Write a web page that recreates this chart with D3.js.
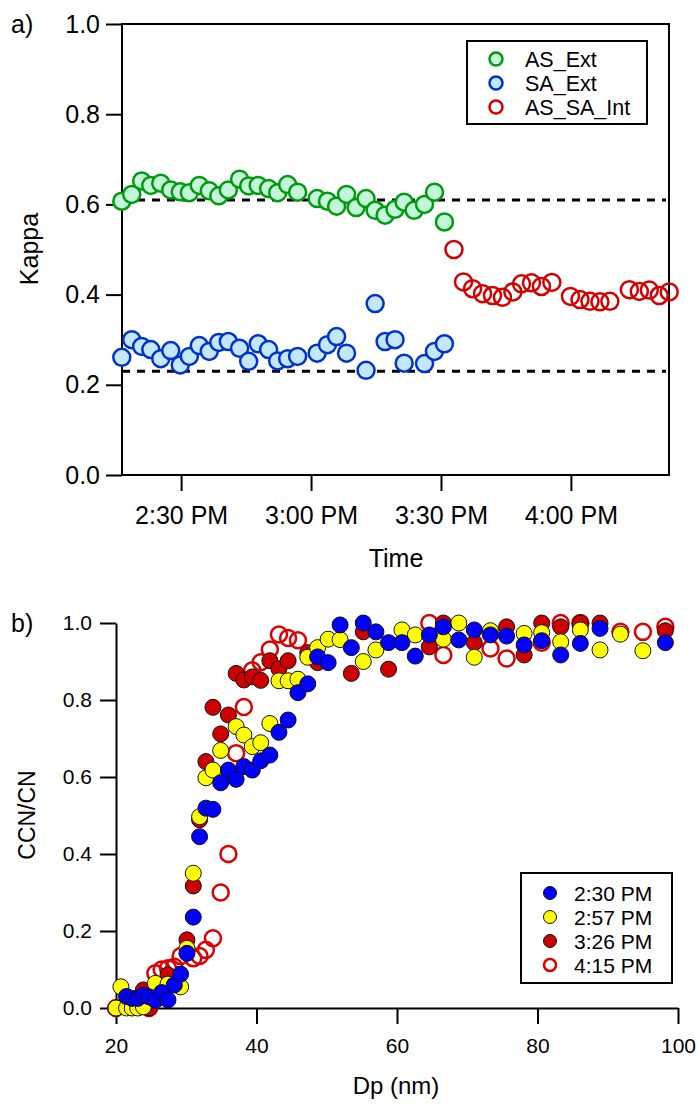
<!DOCTYPE html>
<html>
<head>
<meta charset="UTF-8">
<style>
  body { margin: 0; background: #fff; }
  svg { display: block; font-family: "Liberation Sans", Arial, sans-serif; }
  .axis path, .axis line { stroke: #000; stroke-width: 2px; }
  .axis text { fill: #000; }
</style>
</head>
<body>
<svg></svg>
<script src="https://d3js.org/d3.v7.min.js"></script>
<script>
// ---- panel a) data : minutes after 2:00 PM, kappa ----
const asExtMin = [16.3, 18.6, 20.9, 23.0, 25.3, 27.6, 29.8, 31.9, 34.2, 36.5, 38.7, 40.9, 43.5, 45.6, 47.8, 50.2, 52.3, 54.6, 56.9,
                  61.4, 63.8, 65.9, 68.2, 70.4, 72.7, 74.8, 77.1, 79.4, 81.5, 83.8, 86.2, 88.5, 90.8];
const asExtKappa = [0.607, 0.622, 0.652, 0.642, 0.647, 0.632, 0.628, 0.626, 0.642, 0.630, 0.619, 0.632, 0.656, 0.641, 0.642, 0.635, 0.626, 0.644, 0.627,
                    0.613, 0.607, 0.596, 0.622, 0.593, 0.613, 0.587, 0.576, 0.589, 0.605, 0.587, 0.600, 0.627, 0.561];

const saExtMin = [16.3, 18.6, 20.9, 23.0, 25.3, 27.6, 29.8, 31.9, 34.2, 36.5, 38.7, 40.9, 43.5, 45.6, 47.8, 50.2, 52.3, 54.6, 56.9,
                  61.4, 63.8, 65.9, 68.2, 72.7, 74.8, 77.1, 79.4, 81.5, 86.2, 88.5, 90.8];
const saExtKappa = [0.261, 0.300, 0.285, 0.278, 0.258, 0.276, 0.244, 0.263, 0.287, 0.274, 0.294, 0.296, 0.281, 0.252, 0.291, 0.278, 0.253, 0.258, 0.263,
                    0.270, 0.289, 0.307, 0.270, 0.232, 0.380, 0.296, 0.300, 0.248, 0.247, 0.274, 0.291];

const intMin = [93.0, 95.2, 97.3, 99.6, 101.9, 104.2, 106.6, 108.6, 110.9, 113.2, 115.6, 119.9, 122.1, 124.4, 126.7, 129.0, 133.5, 135.8, 138.1, 140.4, 142.7];
const intKappa = [0.500, 0.428, 0.413, 0.402, 0.398, 0.394, 0.406, 0.424, 0.426, 0.418, 0.427, 0.396, 0.389, 0.385, 0.384, 0.385, 0.411, 0.407, 0.410, 0.398, 0.406];

const refKappa = [0.61, 0.23];
const kappaTicks = [0, 0.2, 0.4, 0.6, 0.8, 1.0];
const timeTicks = [30, 60, 90, 120];
const seriesA = ["AS_Ext", "SA_Ext", "AS_SA_Int"];

// ---- panel b) data : Dp (nm), CCN/CN ----
const dp = [20.0, 20.7, 21.5, 22.3, 23.1, 23.9, 24.7, 25.6, 26.5, 27.4,
            28.3, 29.2, 30.1, 31.0, 31.9, 32.8, 33.8, 34.9, 36.0, 37.1,
            38.2, 39.4, 40.6, 41.9, 43.2, 44.5, 45.9, 47.3, 48.7, 50.2,
            51.9, 53.5, 55.2, 57.0, 58.8, 60.7, 62.6, 64.6, 66.6, 68.8,
            71.0, 73.3, 75.6, 78.1, 80.6, 83.3, 86.1, 88.9, 91.8, 95.0,
            98.2];
const pm230 = [null, null, 0.030, 0.025, 0.025, 0.034, 0.029, 0.020, 0.040, 0.021,
               0.060, 0.088, 0.142, 0.236, 0.445, 0.519, 0.516, 0.585, 0.618, 0.594,
               0.627, 0.618, 0.642, 0.657, 0.716, 0.748, 0.819, 0.842, 0.912, 0.897,
               0.995, 0.936, 1.000, 0.977, 0.949, 0.949, 0.914, 0.969, 0.990, 0.956,
               0.982, 0.969, 0.966, 0.943, 0.954, 0.917, 0.947, 0.986, null, null,
               0.949];
const pm257 = [0.000, 0.055, 0.000, 0.000, 0.000, 0.003, null, 0.064, null, 0.062,
               null, 0.055, 0.155, 0.350, 0.497, 0.598, 0.618, 0.669, null, 0.731,
               0.709, 0.679, 0.689, 0.739, 0.850, 0.850, 0.854, 0.911, 0.936, 0.958,
               0.957, null, 0.900, 0.930, null, 0.982, 0.969, null, 0.958, 1.000,
               0.911, 0.980, null, 0.973, 0.975, 0.951, 0.982, 0.930, 0.971, 0.928,
               null];
const pm326 = [0.000, null, null, null, null, 0.047, 0.000, null, null, 0.086,
               null, null, 0.177, 0.317, 0.489, 0.640, 0.781, 0.712, 0.761, 0.869,
               0.852, 0.860, 0.851, 0.902, 0.881, 0.902, null, 0.923, 0.897, null,
               null, 0.869, 0.977, null, 0.880, null, null, 0.938, 1.000, null,
               0.949, null, 0.990, 0.917, 1.000, 0.990, 1.000, 1.000, null, null,
               0.980];
const pm415 = [0.000, null, null, null, null, null, 0.000, 0.090, 0.100, 0.103,
               0.107, 0.135, null, 0.129, 0.135, 0.151, 0.181, 0.300, 0.400, 0.662,
               0.782, 0.877, 0.898, 0.931, 0.970, 0.961, 0.955, null, null, null,
               null, null, null, null, null, null, null, 1.000, 0.917, null,
               null, 0.934, 0.908, null, 0.949, 1.000, 1.000, null, 0.977, 0.977,
               0.990];
const fracTicks = [0, 0.2, 0.4, 0.6, 0.8, 1.0];
const dpTicks = [20, 40, 60, 80, 100];
const seriesB = ["2:30 PM", "2:57 PM", "3:26 PM", "4:15 PM"];

let width = 699, height = 1106;
let svg = d3.select("svg").attr("width", width).attr("height", height);

// ================= panel a =================
const t0 = new Date(2020, 0, 1, 14, 0);
const toDate = m => new Date(t0.getTime() + m * 60000);

let xTime = d3.scaleTime().domain([toDate(16.35), toDate(142.65)]).range([122, 669]);
let yKappa = d3.scaleLinear().domain([0, 1]).range([475, 24]);

let styleA = {
  "AS_Ext":    {fill: "#c4f7da", stroke: "#009a0e"},
  "SA_Ext":    {fill: "#c2e7ff", stroke: "#0032cc"},
  "AS_SA_Int": {fill: "none",    stroke: "#d40000"}
};

svg.append("g")
    .attr("class", "axis")
    .attr("transform", "translate(122,0)")
    .style("font-size", "25px")
    .call(d3.axisLeft(yKappa).tickValues(kappaTicks).tickFormat(d3.format(".1f"))
      .tickSize(16).tickPadding(6).tickSizeOuter(0))
    .call(g => g.select(".domain").remove())
    .call(g => g.selectAll("text").attr("font-family", null));

svg.append("g")
    .attr("class", "axis")
    .attr("transform", "translate(0,475)")
    .style("font-size", "25px")
    .call(d3.axisBottom(xTime).tickValues(timeTicks.map(toDate)).tickFormat(d3.timeFormat("%-I:%M %p"))
      .tickSize(16).tickPadding(15).tickSizeOuter(0))
    .call(g => g.select(".domain").remove())
    .call(g => g.selectAll("text").attr("font-family", null));

svg.append("rect")
    .attr("x", 122).attr("y", 24)
    .attr("width", 669 - 122).attr("height", 475 - 24)
    .attr("fill", "none").attr("stroke", "#000").attr("stroke-width", 2);

svg.append("g")
  .selectAll("line")
  .data(refKappa)
  .enter()
  .append("line")
    .attr("x1", 122).attr("x2", 666)
    .attr("y1", d => yKappa(d)).attr("y2", d => yKappa(d))
    .attr("stroke", "#000").attr("stroke-width", 3)
    .attr("stroke-dasharray", "8,7");

let dataA = [
  {name: "AS_Ext", pts: asExtMin.map((m, i) => ({t: m, k: asExtKappa[i]}))},
  {name: "SA_Ext", pts: saExtMin.map((m, i) => ({t: m, k: saExtKappa[i]}))},
  {name: "AS_SA_Int", pts: intMin.map((m, i) => ({t: m, k: intKappa[i]}))}
];

dataA.forEach(s => {
  svg.append("g")
    .selectAll("circle")
    .data(s.pts)
    .enter()
    .append("circle")
      .attr("cx", d => xTime(toDate(d.t)))
      .attr("cy", d => yKappa(d.k))
      .attr("r", 8.5)
      .attr("fill", styleA[s.name].fill)
      .attr("stroke", styleA[s.name].stroke)
      .attr("stroke-width", 2.5);
});

// legend a
let legA = svg.append("g");
legA.append("rect")
    .attr("x", 467).attr("y", 41).attr("width", 180).attr("height", 83)
    .attr("fill", "#fff").attr("stroke", "#000").attr("stroke-width", 2);
seriesA.forEach((name, i) => {
  let cy = 59 + i * 24;
  legA.append("circle")
      .attr("cx", 496).attr("cy", cy).attr("r", 6.5)
      .attr("fill", styleA[name].fill === "none" ? "#fff" : styleA[name].fill)
      .attr("stroke", styleA[name].stroke).attr("stroke-width", 2.5);
  legA.append("text")
      .attr("x", 525).attr("y", cy).attr("dy", "0.36em")
      .style("font-size", "21.5px")
      .text(name);
});

svg.append("text").attr("x", 11).attr("y", 33).style("font-size", "25px").text("a)");
svg.append("text")
    .attr("transform", "translate(38,249) rotate(-90)")
    .attr("text-anchor", "middle")
    .style("font-size", "25px")
    .text("Kappa");
svg.append("text")
    .attr("x", 396).attr("y", 567)
    .attr("text-anchor", "middle")
    .style("font-size", "25px")
    .text("Time");

// ================= panel b =================
let xDp = d3.scaleLinear().domain([20, 100]).range([116, 678]);
let yFrac = d3.scaleLinear().domain([0, 1]).range([1008, 623]);

svg.append("g")
    .attr("class", "axis")
    .attr("transform", "translate(116,0)")
    .style("font-size", "21px")
    .call(d3.axisLeft(yFrac).tickValues(fracTicks).tickFormat(d3.format(".1f"))
      .tickSize(16).tickPadding(8).tickSizeOuter(0))
    .call(g => g.selectAll("text").attr("font-family", null));

svg.append("g")
    .attr("class", "axis")
    .attr("transform", "translate(0,1008)")
    .style("font-size", "21px")
    .call(d3.axisBottom(xDp).tickValues(dpTicks)
      .tickSize(16).tickPadding(14).tickSizeOuter(0))
    .call(g => g.selectAll("text").attr("font-family", null));

let styleB = {
  "2:30 PM": {fill: "#0000ff", stroke: "#111", sw: 1},
  "2:57 PM": {fill: "#ffff00", stroke: "#111", sw: 1},
  "3:26 PM": {fill: "#cc0000", stroke: "#111", sw: 1},
  "4:15 PM": {fill: "none", stroke: "#dd0000", sw: 2.5}
};

let valuesB = {"2:30 PM": pm230, "2:57 PM": pm257, "3:26 PM": pm326, "4:15 PM": pm415};

// draw back to front: open red, red, yellow, blue
["4:15 PM", "3:26 PM", "2:57 PM", "2:30 PM"].forEach(name => {
  let pts = dp.map((x, i) => ({dp: x, v: valuesB[name][i]})).filter(d => d.v !== null);
  svg.append("g")
    .selectAll("circle")
    .data(pts)
    .enter()
    .append("circle")
      .attr("cx", d => xDp(d.dp))
      .attr("cy", d => yFrac(d.v))
      .attr("r", 8)
      .attr("fill", styleB[name].fill)
      .attr("stroke", styleB[name].stroke)
      .attr("stroke-width", styleB[name].sw);
});

// legend b
let legB = svg.append("g");
legB.append("rect")
    .attr("x", 521).attr("y", 873).attr("width", 151).attr("height", 110)
    .attr("fill", "#fff").attr("stroke", "#000").attr("stroke-width", 2);
seriesB.forEach((name, i) => {
  let cy = 893 + i * 24;
  legB.append("circle")
      .attr("cx", 550).attr("cy", cy).attr("r", name === "4:15 PM" ? 6 : 6.5)
      .attr("fill", styleB[name].fill === "none" ? "#fff" : styleB[name].fill)
      .attr("stroke", styleB[name].stroke).attr("stroke-width", styleB[name].sw);
  legB.append("text")
      .attr("x", 574).attr("y", cy).attr("dy", "0.36em")
      .style("font-size", "21px")
      .text(name);
});

svg.append("text").attr("x", 11).attr("y", 632).style("font-size", "25px").text("b)");
svg.append("text")
    .attr("transform", "translate(35,815) rotate(-90)")
    .attr("text-anchor", "middle")
    .style("font-size", "23px")
    .text("CCN/CN");
svg.append("text")
    .attr("x", 396).attr("y", 1094)
    .attr("text-anchor", "middle")
    .style("font-size", "24px")
    .text("Dp (nm)");
</script>
</body>
</html>
